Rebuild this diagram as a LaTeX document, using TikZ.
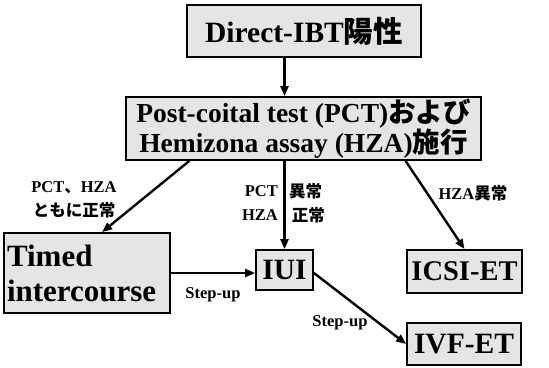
\documentclass[tikz,border=0pt]{standalone}
\usepackage{fontspec}
\setmainfont{Liberation Serif}
\newfontfamily\jp{Noto Sans CJK JP}
\usetikzlibrary{arrows.meta,calc}
\begin{document}
\begin{tikzpicture}[x=1pt,y=-1pt,
  box/.style={draw=black,line width=1.8pt,fill=gray!20,inner sep=0pt,font=\bfseries\fontsize{29.5}{32}\selectfont},
  lab/.style={inner sep=0pt,font=\bfseries\fontsize{16.5}{24}\selectfont},
  conn/.style={line width=2.4pt,-{Triangle[length=10pt,width=8pt]}}]
\useasboundingbox (0,0) rectangle (549,367);
\node[box,minimum width=234pt,minimum height=52pt] (top) at (304,31) {Direct-IBT{\jp 陽性}};
\node[box,minimum width=355pt,minimum height=63pt,align=center,font=\bfseries\fontsize{27.5}{29}\selectfont] (mid) at (303.5,128.5) {Post-coital test (PCT){\jp および}\\Hemizona assay (HZA){\jp 施行}};
\node[box,minimum width=166pt,minimum height=80pt,align=left,text width=160pt,font=\bfseries\fontsize{31}{35}\selectfont] (timed) at (87,273) {Timed\\intercourse};
\node[box,minimum width=57pt,minimum height=40pt] (iui) at (284.5,270) {IUI};
\node[box,minimum width=115pt,minimum height=43pt,font=\bfseries\fontsize{28.5}{32}\selectfont] (icsi) at (464.5,271.5) {ICSI-ET};
\node[box,minimum width=114pt,minimum height=42pt] (ivf) at (464,344) {IVF-ET};
\draw[conn] (top.south -| iui.center) -- (mid.north -| iui.center);
\draw[conn] ($(mid.south west)!0.18!(mid.south east)$) -- ($(timed.north west)!0.59!(timed.north east)$);
\draw[conn] (mid.south -| iui.center) -- (iui.north);
\draw[conn] ($(mid.south west)!0.786!(mid.south east)$) -- (icsi.north);
\draw[conn] (timed.east) -- (timed.east -| iui.west);
\draw[conn] ($(iui.east)+(0,3)$) -- (ivf.west);
\node[lab,align=center] (l1) at (74,200) {PCT{\jp 、}HZA\\{\jp ともに正常}};
\node[lab,align=right,anchor=east] (l2a) at (278,203) {PCT\\HZA};
\node[lab,align=left,anchor=west] (l2b) at (289,203) {{\jp 異常}\\{\jp\,正常}};
\node[lab] (l3) at (473,193) {HZA{\jp 異常}};
\node[lab] (s1) at (213,295) {Step-up};
\node[lab] (s2) at (340,323) {Step-up};
\end{tikzpicture}
\end{document}
